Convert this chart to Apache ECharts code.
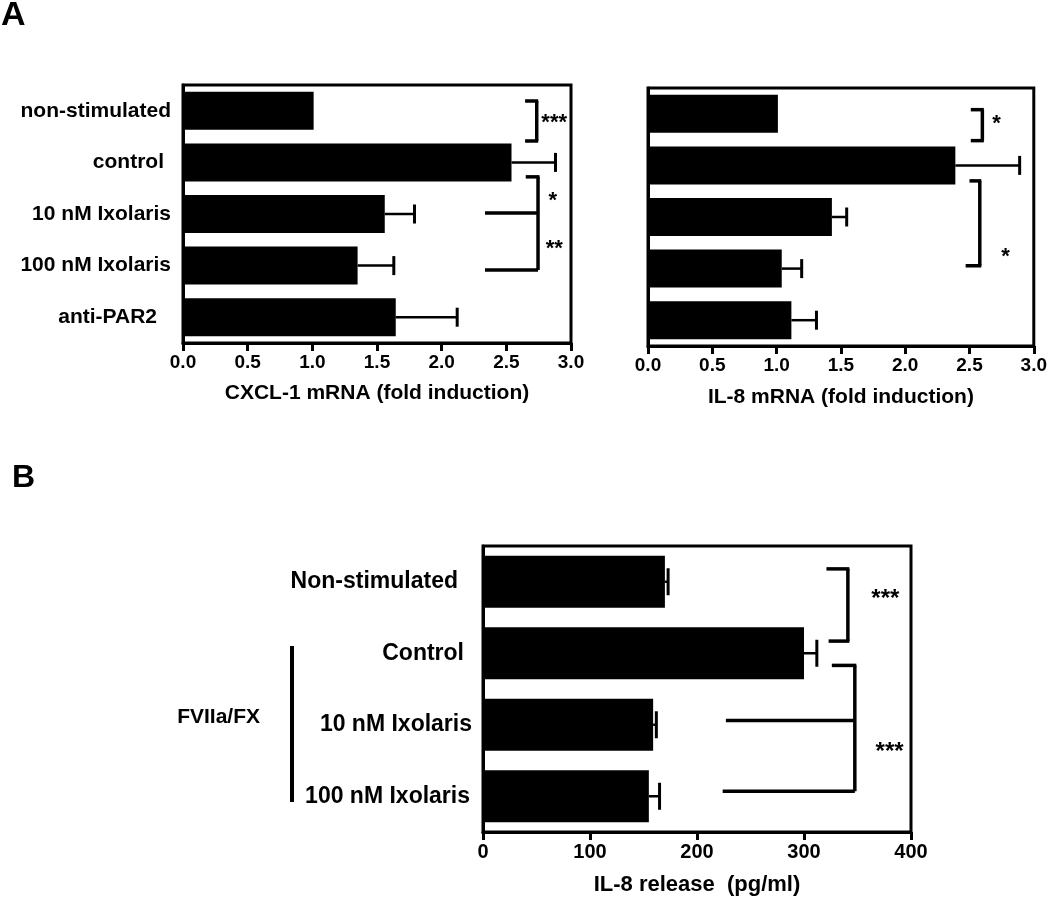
<!DOCTYPE html>
<html>
<head>
<meta charset="utf-8">
<script src="https://cdn.jsdelivr.net/npm/echarts@6/dist/echarts.min.js"></script>
<style>
  html, body { margin: 0; padding: 0; background: #fff; }
  #chart { width: 1050px; height: 901px; }
</style>
</head>
<body>
<div id="chart"></div>
<script>
// panel A, left: CXCL-1
const catsA1 = ['non-stimulated', 'control', '10 nM Ixolaris', '100 nM Ixolaris', 'anti-PAR2']
const meanA1 = [1.01, 2.54, 1.56, 1.35, 1.645]
const errA1 = [0, 0.34, 0.23, 0.28, 0.475]

// panel A, right: IL-8 mRNA
const meanA2 = [1.01, 2.39, 1.43, 1.04, 1.115]
const errA2 = [0, 0.5, 0.115, 0.155, 0.195]

// panel B: IL-8 release
const catsB = ['Non-stimulated', 'Control', '10 nM Ixolaris', '100 nM Ixolaris']
const meanB = [170, 300, 159, 155]
const errB = [3, 12, 3, 10]

const ticksA = [0, 0.5, 1, 1.5, 2, 2.5, 3]
const ticksB = [0, 100, 200, 300, 400]

// significance brackets, in data units (p = category position, 0 = first band centre)
const sigA1 = [
  { x: 2.735, p0: -0.19, p1: 0.585, ticks: [2.645, 2.645], arms: [], stars: [[2.87, 0.24, '***']] },
  { x: 2.745, p0: 1.28, p1: 3.085, ticks: [2.65, null], arms: [[1.98, 2.335], [3.085, 2.335]], stars: [[2.86, 1.74, '*'], [2.87, 2.68, '**']] }
]
const sigA2 = [
  { x: 2.6, p0: -0.08, p1: 0.52, ticks: [2.51, 2.51], arms: [], stars: [[2.71, 0.2, '*']] },
  { x: 2.58, p0: 1.3, p1: 2.945, ticks: [2.5, 2.47], arms: [], stars: [[2.78, 2.77, '*']] }
]
const sigB = [
  { x: 341, p0: -0.18, p1: 0.83, ticks: [321, 323], arms: [], stars: [[376, 0.24, '***']] },
  { x: 347.5, p0: 1.17, p1: 2.93, ticks: [326, null], arms: [[1.94, 227], [2.93, 224]], stars: [[380, 2.38, '***']] }
]

const FONT = '"Liberation Sans", Arial, sans-serif'

const chart = echarts.init(document.getElementById('chart'))

function errRender(capH) {
  return function(params, api) {
    const e = api.value(1)
    if (!e) return
    const c = api.value(2)
    const m = api.coord([api.value(0), c])
    const t = api.coord([api.value(0) + e, c])
    return {
      type: 'group',
      children: [
        { type: 'line', shape: { x1: m[0], y1: m[1], x2: t[0], y2: t[1] }, style: { stroke: '#000', lineWidth: 2.5 } },
        { type: 'line', shape: { x1: t[0], y1: t[1] - capH / 2, x2: t[0], y2: t[1] + capH / 2 }, style: { stroke: '#000', lineWidth: 3 } }
      ]
    }
  }
}

function sigRender(list, starSize) {
  return function(params, api) {
    const b = list[params.dataIndex]
    const y0 = api.coord([0, 0])[1]
    const band = api.size([0, 1])[1]
    const py = p => y0 + p * band
    const px = v => api.coord([v, 0])[0]
    const st = { stroke: '#000', lineWidth: 3.5 }
    const kids = [
      { type: 'line', shape: { x1: px(b.x), y1: py(b.p0), x2: px(b.x), y2: py(b.p1) }, style: st }
    ]
    if (b.ticks[0] != null) kids.push({ type: 'line', shape: { x1: px(b.ticks[0]), y1: py(b.p0), x2: px(b.x) + 1.5, y2: py(b.p0) }, style: st })
    if (b.ticks[1] != null) kids.push({ type: 'line', shape: { x1: px(b.ticks[1]), y1: py(b.p1), x2: px(b.x) + 1.5, y2: py(b.p1) }, style: st })
    b.arms.forEach(a => {
      kids.push({ type: 'line', shape: { x1: px(a[1]), y1: py(a[0]), x2: px(b.x), y2: py(a[0]) }, style: st })
    })
    b.stars.forEach(s => {
      kids.push({
        type: 'text',
        style: { text: s[2], x: px(s[0]), y: py(s[1]), align: 'center', verticalAlign: 'middle', fontSize: starSize, fontWeight: 'bold', fontFamily: FONT, fill: '#000' }
      })
    })
    return { type: 'group', children: kids }
  }
}

function catLabel(pads, size) {
  const rich = {}
  pads.forEach((p, i) => {
    rich['p' + i] = { padding: [0, p, 0, 0], fontSize: size, fontWeight: 'bold', fontFamily: FONT, color: '#000' }
  })
  return {
    margin: 12,
    fontSize: size,
    fontWeight: 'bold',
    fontFamily: FONT,
    color: '#000',
    formatter: (val, idx) => '{p' + idx + '|' + val + '}',
    rich: rich
  }
}

function valueAxis(gridIndex, max, interval, name, nameGap, labSize, nameSize, fmt) {
  return {
    type: 'value',
    gridIndex: gridIndex,
    min: 0,
    max: max,
    interval: interval,
    name: name,
    nameLocation: 'middle',
    nameGap: nameGap,
    nameTextStyle: { fontSize: nameSize, fontWeight: 'bold', fontFamily: FONT, color: '#000' },
    axisLine: { show: true, lineStyle: { color: '#000', width: 3 } },
    axisTick: { show: true, length: 8, lineStyle: { color: '#000', width: 3 } },
    splitLine: { show: false },
    axisLabel: { margin: 10, fontSize: labSize, fontWeight: 'bold', fontFamily: FONT, color: '#000', formatter: fmt }
  }
}

function catAxis(gridIndex, data, label) {
  return {
    type: 'category',
    gridIndex: gridIndex,
    data: data,
    inverse: true,
    axisLine: { show: true, lineStyle: { color: '#000', width: 3 } },
    axisTick: { show: false },
    axisLabel: label
  }
}

const gridStyle = { show: true, borderColor: '#000', borderWidth: 3, containLabel: false }

const fmtA = v => v.toFixed(1)
const fmtB = v => String(v)

chart.setOption({
  animation: false,
  backgroundColor: '#fff',
  grid: [
    Object.assign({ left: 183, top: 85, width: 388, height: 258 }, gridStyle),
    Object.assign({ left: 648, top: 88, width: 388, height: 258 }, gridStyle),
    Object.assign({ left: 483, top: 546, width: 428, height: 286 }, gridStyle)
  ],
  xAxis: [
    valueAxis(0, ticksA[ticksA.length - 1], 0.5, 'CXCL-1 mRNA (fold induction)', 40, 19, 21, fmtA),
    valueAxis(1, ticksA[ticksA.length - 1], 0.5, 'IL-8 mRNA (fold induction)', 41, 19, 21, fmtA),
    valueAxis(2, ticksB[ticksB.length - 1], 100, 'IL-8 release  (pg/ml)', 42, 20, 22, fmtB)
  ],
  yAxis: [
    catAxis(0, catsA1, catLabel([0, 7, 0, 0, 14], 21)),
    catAxis(1, catsA1, { show: false }),
    catAxis(2, catsB, Object.assign(catLabel([14, 8, 0, 2], 23), { margin: 11 }))
  ],
  series: [
    { type: 'bar', xAxisIndex: 0, yAxisIndex: 0, data: meanA1, barWidth: 38, itemStyle: { color: '#000' } },
    { type: 'bar', xAxisIndex: 1, yAxisIndex: 1, data: meanA2, barWidth: 38, itemStyle: { color: '#000' } },
    { type: 'bar', xAxisIndex: 2, yAxisIndex: 2, data: meanB, barWidth: 52, itemStyle: { color: '#000' } },
    {
      type: 'custom', xAxisIndex: 0, yAxisIndex: 0, encode: { x: 0, y: 2 }, z: 5,
      data: meanA1.map((m, i) => [m, errA1[i], i]), renderItem: errRender(19)
    },
    {
      type: 'custom', xAxisIndex: 1, yAxisIndex: 1, encode: { x: 0, y: 2 }, z: 5,
      data: meanA2.map((m, i) => [m, errA2[i], i]), renderItem: errRender(19)
    },
    {
      type: 'custom', xAxisIndex: 2, yAxisIndex: 2, encode: { x: 0, y: 2 }, z: 5,
      data: meanB.map((m, i) => [m, errB[i], i]), renderItem: errRender(27)
    },
    {
      type: 'custom', xAxisIndex: 0, yAxisIndex: 0, encode: { x: 0, y: 1 }, clip: false,
      data: sigA1.map(() => [0, 0]), renderItem: sigRender(sigA1, 22)
    },
    {
      type: 'custom', xAxisIndex: 1, yAxisIndex: 1, encode: { x: 0, y: 1 }, clip: false,
      data: sigA2.map(() => [0, 0]), renderItem: sigRender(sigA2, 22)
    },
    {
      type: 'custom', xAxisIndex: 2, yAxisIndex: 2, encode: { x: 0, y: 1 }, clip: false,
      data: sigB.map(() => [0, 0]), renderItem: sigRender(sigB, 24)
    }
  ],
  graphic: [
    { type: 'text', left: 1, top: -1, style: { text: 'A', fontSize: 34, fontWeight: 'bold', fontFamily: FONT, fill: '#000' } },
    { type: 'text', left: 12, top: 462, style: { text: 'B', fontSize: 32, fontWeight: 'bold', fontFamily: FONT, fill: '#000' } },
    { type: 'text', x: 260, y: 717, style: { text: 'FVIIa/FX', align: 'right', verticalAlign: 'middle', fontSize: 21, fontWeight: 'bold', fontFamily: FONT, fill: '#000' } },
    { type: 'line', shape: { x1: 292, y1: 646, x2: 292, y2: 802 }, style: { stroke: '#000', lineWidth: 4 } }
  ]
})
</script>
</body>
</html>
